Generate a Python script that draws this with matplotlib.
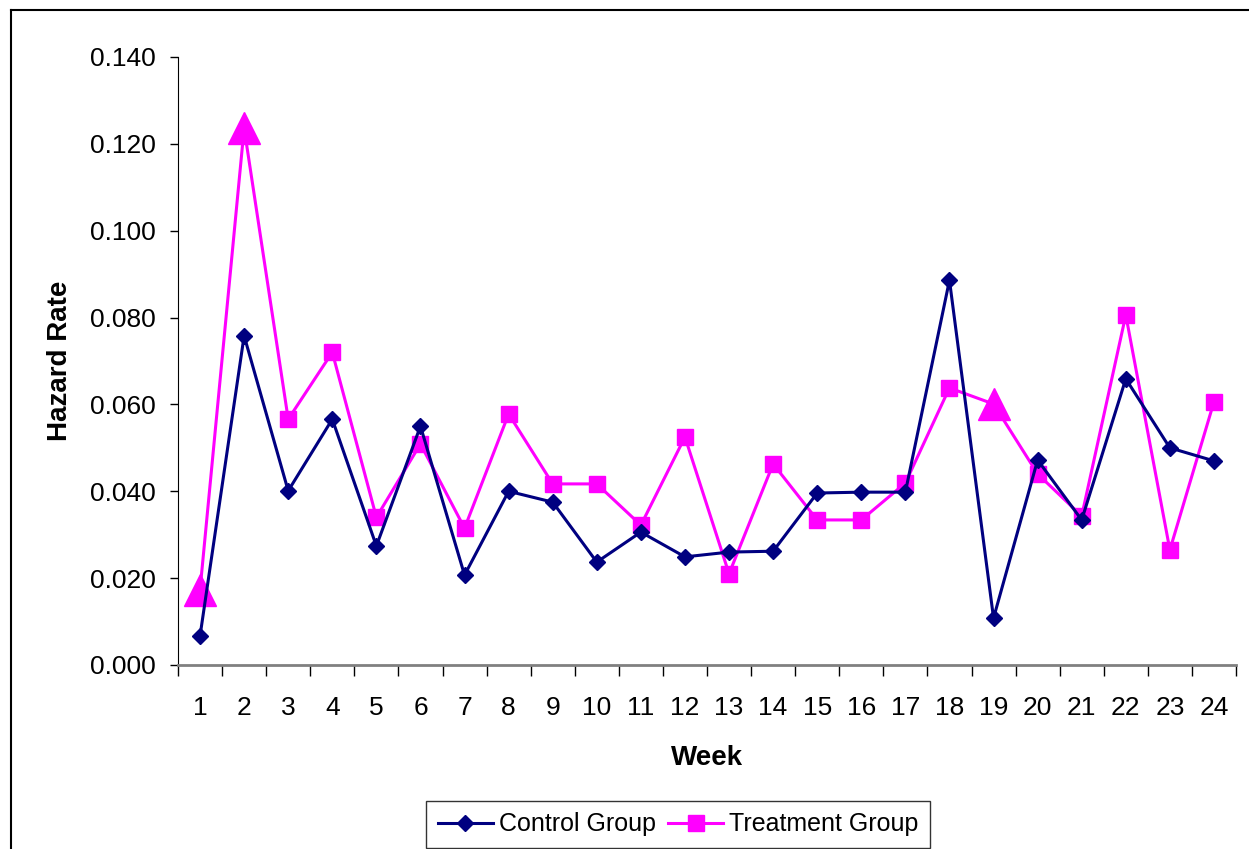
import matplotlib.pyplot as plt
from matplotlib.lines import Line2D

plt.rcParams['font.family'] = ['Liberation Sans', 'DejaVu Sans']

weeks = list(range(1, 25))
control = [0.0067, 0.0758, 0.0401, 0.0566, 0.0274, 0.0550, 0.0207, 0.0400,
           0.0375, 0.0237, 0.0306, 0.0249, 0.0260, 0.0262, 0.0396, 0.0398,
           0.0398, 0.0886, 0.0108, 0.0472, 0.0334, 0.0659, 0.0500, 0.0470]
treatment = [0.0173, 0.1236, 0.0566, 0.0720, 0.0340, 0.0509, 0.0315, 0.0578,
             0.0417, 0.0417, 0.0322, 0.0525, 0.0210, 0.0463, 0.0334, 0.0334,
             0.0419, 0.0638, 0.0601, 0.0440, 0.0343, 0.0806, 0.0265, 0.0606]
# weeks where the treatment point is drawn as a big triangle
flagged = [1, 2, 19]

navy = '#000080'
magenta = '#FF00FF'

fig = plt.figure(figsize=(12.49, 8.49), dpi=100)
ax = fig.add_axes([178 / 1249, 1 - 665 / 849, (1236 - 178) / 1249, (665 - 57) / 849])

ax.plot(weeks, control, color=navy, lw=2.2, marker='D', ms=8.5,
        label='Control Group', zorder=3)
sq = [w not in flagged for w in weeks]
ax.plot(weeks, treatment, color=magenta, lw=2.2, marker='s', ms=11,
        markevery=sq, label='Treatment Group', zorder=2)
ax.plot([w for w in flagged], [treatment[w - 1] for w in flagged],
        ls='none', marker='^', ms=23, color=magenta, zorder=2)

ax.set_xlim(0.5, 24.5)
ax.set_ylim(0, 0.14)
ax.set_yticks([i * 0.02 for i in range(8)])
ax.set_yticklabels(['%.3f' % (i * 0.02) for i in range(8)], fontsize=19)
ax.tick_params(axis='y', length=6, width=1, pad=10, colors='black')

ax.set_xticks([w + 0.5 for w in [0] + weeks])
ax.set_xticklabels([])
ax.set_xticks(weeks, minor=True)
ax.set_xticklabels([str(w) for w in weeks], minor=True, fontsize=19)
ax.tick_params(axis='x', which='major', length=8, width=1, color='black')
ax.tick_params(axis='x', which='minor', length=0, pad=22)

for s in ['top', 'right']:
    ax.spines[s].set_visible(False)
ax.spines['left'].set_color('black')
ax.spines['bottom'].set_color('#808080')
ax.spines['bottom'].set_linewidth(2)

ax.set_xlabel('Week', fontsize=20, fontweight='bold', labelpad=18)
ax.set_ylabel('Hazard Rate', fontsize=20, fontweight='bold', labelpad=12)

leg = ax.legend(loc='upper center', bbox_to_anchor=(678 / 1249, 1 - 801 / 849),
                bbox_transform=fig.transFigure, ncol=2, fontsize=18,
                frameon=True, fancybox=False, edgecolor='black',
                handlelength=2.2, handletextpad=0.24, columnspacing=0.5,
                borderpad=0.45, borderaxespad=0)
leg.get_frame().set_linewidth(1)

# outer chart border (top and left visible)
fig.add_artist(Line2D([10.5 / 1249, 10.5 / 1249], [0, 1 - 10 / 849],
                      color='black', lw=1.5, transform=fig.transFigure))
fig.add_artist(Line2D([10.5 / 1249, 1], [1 - 10 / 849, 1 - 10 / 849],
                      color='black', lw=1.5, transform=fig.transFigure))

fig.savefig('out.png', dpi=100)
